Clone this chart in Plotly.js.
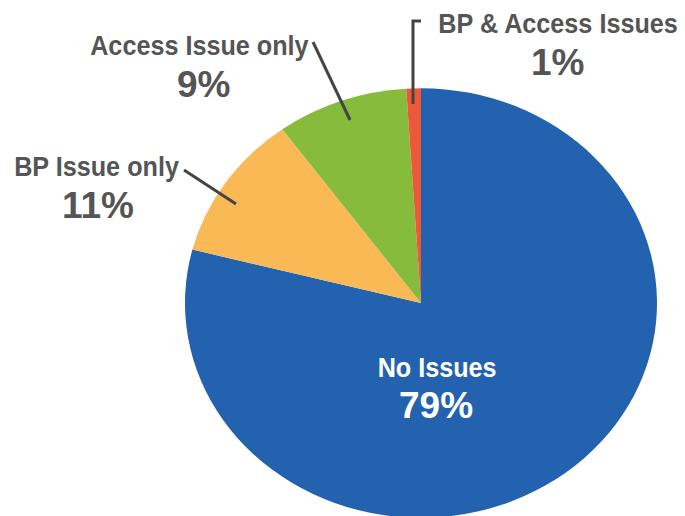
<!DOCTYPE html>
<html>
<head>
<meta charset="utf-8">
<script src="https://cdn.plot.ly/plotly-3.0.1.min.js"></script>
<style>
html,body{margin:0;padding:0;background:#fff;overflow:hidden;}
#wrap{width:685px;height:516px;overflow:hidden;}
#chart{width:685px;height:560px;}
</style>
</head>
<body>
<div id="wrap"><div id="chart"></div></div>
<script>
// Data
const categories = ["No Issues", "BP Issue only", "Access Issue only", "BP & Access Issues"];
const shares = [79, 11, 9, 1];
const sliceColors = ["#2362AE", "#F9B955", "#86BB3C", "#EC5838"];

const W = 685, H = 560;
const px = x => x / W;
const py = y => 1 - y / H;

const FONT = "Liberation Sans, Arial, sans-serif";
const GREY = "#555555";

// label placement (pixel centers) per category
const labelPos = [
  {lx: 437, ly: 367, vx: 436, vy: 405, color: "#ffffff"},
  {lx: 97, ly: 166, vx: 98, vy: 205, color: GREY},
  {lx: 200, ly: 45, vx: 203, vy: 84, color: GREY},
  {lx: 558, ly: 24, vx: 557, vy: 62, color: GREY}
];

const annotations = [];
categories.forEach((c, i) => {
  const p = labelPos[i];
  annotations.push({
    text: c, xref: "paper", yref: "paper", x: px(p.lx), y: py(p.ly),
    xanchor: "center", yanchor: "middle", showarrow: false,
    font: {family: FONT, size: 28, color: p.color, weight: "bold"}
  });
  annotations.push({
    text: shares[i] + "%", xref: "paper", yref: "paper", x: px(p.vx), y: py(p.vy),
    xanchor: "center", yanchor: "middle", showarrow: false,
    font: {family: FONT, size: 37, color: p.color, weight: "bold"}
  });
});

const lineStyle = {color: "#444444", width: 3};
const shapes = [
  {type: "line", xref: "paper", yref: "paper", x0: px(313), y0: py(42), x1: px(350), y1: py(120), line: lineStyle},
  {type: "line", xref: "paper", yref: "paper", x0: px(184), y0: py(170), x1: px(236), y1: py(204), line: lineStyle},
  {type: "path", xref: "paper", yref: "paper",
   path: `M ${px(421)} ${py(21)} L ${px(413)} ${py(21)} L ${px(413)} ${py(104)}`, line: lineStyle}
];

// pie circle: center (421,303) radius 236 in a 560-tall layout
const cx = 421, cy = 303, r = 236;
const data = [{
  type: "pie",
  labels: categories,
  values: shares,
  sort: false,
  direction: "clockwise",
  rotation: 0,
  textinfo: "none",
  hoverinfo: "none",
  marker: {colors: sliceColors, line: {width: 0}},
  domain: {x: [px(cx - r), px(cx + r)], y: [py(cy + r), py(cy - r)]},
  showlegend: false
}];

const layout = {
  width: W, height: H,
  margin: {l: 0, r: 0, t: 0, b: 0},
  paper_bgcolor: "#ffffff",
  showlegend: false,
  annotations: annotations,
  shapes: shapes
};

Plotly.newPlot("chart", data, layout, {staticPlot: true}).then(() => {
  const pl = document.querySelector("#chart .pielayer");
  if (pl) {
    pl.style.transformOrigin = cx + "px " + cy + "px";
    pl.style.transform = "scaleY(0.91)";
  }
  // condensed look for the category labels (even annotations)
  document.querySelectorAll("#chart .annotation").forEach((a, k) => {
    if (k % 2 === 0) {
      const t = a.querySelector("text");
      if (t) {
        t.style.transformBox = "fill-box";
        t.style.transformOrigin = "center";
        t.style.transform = "scaleX(0.9)";
      }
    }
  });
});
</script>
</body>
</html>
